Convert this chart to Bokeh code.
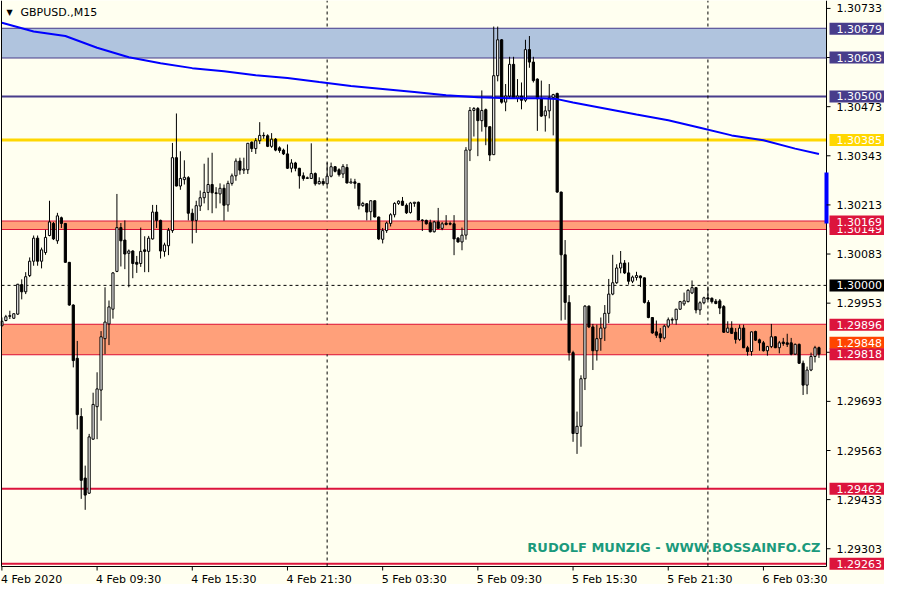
from bokeh.plotting import figure
from bokeh.models import ColumnDataSource, Range1d, BoxAnnotation, Label
from bokeh.core.properties import value
from bokeh.embed import file_html
from bokeh.resources import INLINE

symbol = "GBPUSD.,M15"
watermark = "RUDOLF MUNZIG - WWW.BOSSAINFO.CZ"

# ---- M15 candles (bar 0 = 4 Feb 03:30) ----
open_ = [1.29893, 1.29907, 1.29918, 1.29913, 1.29924, 1.30002, 1.29983, 1.30026, 1.30064, 1.30125,
         1.30064, 1.30087, 1.30132, 1.30164, 1.30118, 1.30179, 1.30164, 1.30061, 1.29948, 1.29807,
         1.29653, 1.29490, 1.29450, 1.29593, 1.29679, 1.29723, 1.29859, 1.29898, 1.29937, 1.30037,
         1.30153, 1.30120, 1.30085, 1.30091, 1.30061, 1.30058, 1.30094, 1.30090, 1.30123, 1.30194,
         1.30172, 1.30090, 1.30105, 1.30145, 1.30338, 1.30263, 1.30280, 1.30285, 1.30191, 1.30172,
         1.30210, 1.30232, 1.30246, 1.30267, 1.30245, 1.30242, 1.30257, 1.30213, 1.30270, 1.30290,
         1.30329, 1.30305, 1.30306, 1.30379, 1.30362, 1.30383, 1.30397, 1.30396, 1.30368, 1.30387,
         1.30364, 1.30358, 1.30348, 1.30310, 1.30324, 1.30310, 1.30290, 1.30283, 1.30283, 1.30296,
         1.30269, 1.30275, 1.30269, 1.30289, 1.30314, 1.30306, 1.30295, 1.30312, 1.30271, 1.30274,
         1.30270, 1.30211, 1.30216, 1.30195, 1.30224, 1.30181, 1.30122, 1.30145, 1.30164, 1.30187,
         1.30217, 1.30223, 1.30212, 1.30193, 1.30217, 1.30220, 1.30173, 1.30172, 1.30166, 1.30142,
         1.30168, 1.30151, 1.30165, 1.30164, 1.30163, 1.30125, 1.30115, 1.30133, 1.30358, 1.30463,
         1.30468, 1.30436, 1.30465, 1.30420, 1.30346, 1.30555, 1.30650, 1.30485, 1.30501, 1.30585,
         1.30496, 1.30501, 1.30490, 1.30624, 1.30591, 1.30546, 1.30494, 1.30449, 1.30462, 1.30497,
         1.30508, 1.30247, 1.30081, 1.29955, 1.29822, 1.29608, 1.29627, 1.29753, 1.29945, 1.29890,
         1.29827, 1.29859, 1.29887, 1.29926, 1.29977, 1.30007, 1.30046, 1.30059, 1.30033, 1.30011,
         1.30021, 1.30025, 1.30020, 1.29955, 1.29915, 1.29877, 1.29872, 1.29861, 1.29892, 1.29908,
         1.29909, 1.29937, 1.29951, 1.29957, 1.29980, 1.29994, 1.29935, 1.29954, 1.29967, 1.29966,
         1.29958, 1.29959, 1.29944, 1.29876, 1.29887, 1.29876, 1.29857, 1.29887, 1.29835, 1.29825,
         1.29878, 1.29856, 1.29848, 1.29827, 1.29838, 1.29864, 1.29835, 1.29850, 1.29848, 1.29848,
         1.29818, 1.29844, 1.29794, 1.29736, 1.29776, 1.29812, 1.29835]

high = [1.29915, 1.29922, 1.29933, 1.29926, 1.30004, 1.30016, 1.30035, 1.30074, 1.30132, 1.30132,
        1.30100, 1.30147, 1.30224, 1.30168, 1.30192, 1.30182, 1.30165, 1.30062, 1.29950, 1.29853,
        1.29675, 1.29523, 1.29607, 1.29716, 1.29770, 1.29879, 1.29995, 1.29960, 1.30035, 1.30242,
        1.30165, 1.30172, 1.30095, 1.30093, 1.30078, 1.30153, 1.30130, 1.30131, 1.30213, 1.30213,
        1.30174, 1.30113, 1.30152, 1.30377, 1.30455, 1.30355, 1.30331, 1.30289, 1.30203, 1.30224,
        1.30251, 1.30322, 1.30338, 1.30351, 1.30260, 1.30270, 1.30267, 1.30277, 1.30296, 1.30336,
        1.30338, 1.30338, 1.30377, 1.30381, 1.30390, 1.30432, 1.30405, 1.30400, 1.30403, 1.30390,
        1.30368, 1.30362, 1.30373, 1.30334, 1.30327, 1.30311, 1.30299, 1.30288, 1.30376, 1.30299,
        1.30286, 1.30283, 1.30325, 1.30325, 1.30316, 1.30310, 1.30321, 1.30321, 1.30283, 1.30282,
        1.30271, 1.30221, 1.30218, 1.30225, 1.30225, 1.30182, 1.30152, 1.30169, 1.30191, 1.30220,
        1.30225, 1.30234, 1.30217, 1.30221, 1.30221, 1.30222, 1.30175, 1.30174, 1.30174, 1.30171,
        1.30205, 1.30168, 1.30186, 1.30169, 1.30186, 1.30128, 1.30153, 1.30366, 1.30472, 1.30472,
        1.30472, 1.30516, 1.30468, 1.30420, 1.30685, 1.30685, 1.30652, 1.30533, 1.30605, 1.30605,
        1.30546, 1.30537, 1.30650, 1.30660, 1.30605, 1.30548, 1.30542, 1.30475, 1.30533, 1.30507,
        1.30510, 1.30248, 1.30120, 1.29974, 1.29827, 1.29666, 1.29762, 1.29948, 1.29947, 1.29898,
        1.29896, 1.29915, 1.29948, 1.30017, 1.30081, 1.30056, 1.30091, 1.30067, 1.30061, 1.30026,
        1.30036, 1.30026, 1.30021, 1.29961, 1.29916, 1.29907, 1.29887, 1.29896, 1.29915, 1.29915,
        1.29938, 1.29959, 1.29981, 1.29990, 1.30013, 1.29994, 1.29958, 1.29970, 1.29997, 1.29968,
        1.29964, 1.29964, 1.29948, 1.29905, 1.29905, 1.29887, 1.29896, 1.29896, 1.29840, 1.29878,
        1.29880, 1.29859, 1.29853, 1.29840, 1.29898, 1.29865, 1.29853, 1.29861, 1.29872, 1.29861,
        1.29846, 1.29846, 1.29801, 1.29785, 1.29822, 1.29840, 1.29838]

low = [1.29892, 1.29905, 1.29911, 1.29912, 1.29922, 1.29963, 1.29977, 1.30022, 1.30052, 1.30052,
       1.30045, 1.30081, 1.30130, 1.30120, 1.30110, 1.30152, 1.30060, 1.29946, 1.29783, 1.29619,
       1.29435, 1.29406, 1.29448, 1.29591, 1.29593, 1.29642, 1.29818, 1.29842, 1.29912, 1.30035,
       1.30050, 1.30043, 1.29995, 1.30019, 1.30033, 1.30049, 1.30035, 1.30035, 1.30121, 1.30152,
       1.30071, 1.30076, 1.30080, 1.30139, 1.30262, 1.30253, 1.30267, 1.30172, 1.30111, 1.30139,
       1.30197, 1.30217, 1.30199, 1.30191, 1.30204, 1.30217, 1.30171, 1.30195, 1.30264, 1.30277,
       1.30293, 1.30295, 1.30295, 1.30353, 1.30348, 1.30374, 1.30388, 1.30366, 1.30364, 1.30355,
       1.30351, 1.30345, 1.30308, 1.30299, 1.30302, 1.30256, 1.30277, 1.30282, 1.30282, 1.30264,
       1.30267, 1.30264, 1.30264, 1.30286, 1.30299, 1.30288, 1.30284, 1.30270, 1.30270, 1.30256,
       1.30201, 1.30208, 1.30172, 1.30172, 1.30180, 1.30120, 1.30111, 1.30139, 1.30156, 1.30180,
       1.30213, 1.30211, 1.30189, 1.30190, 1.30208, 1.30172, 1.30144, 1.30161, 1.30140, 1.30140,
       1.30149, 1.30146, 1.30159, 1.30159, 1.30080, 1.30113, 1.30093, 1.30121, 1.30329, 1.30394,
       1.30342, 1.30407, 1.30371, 1.30329, 1.30345, 1.30540, 1.30481, 1.30461, 1.30494, 1.30494,
       1.30485, 1.30466, 1.30485, 1.30576, 1.30537, 1.30409, 1.30446, 1.30407, 1.30442, 1.30397,
       1.30245, 1.29907, 1.29909, 1.29801, 1.29586, 1.29554, 1.29573, 1.29723, 1.29887, 1.29776,
       1.29801, 1.29827, 1.29853, 1.29900, 1.29974, 1.30004, 1.30032, 1.30030, 1.30002, 1.30006,
       1.30013, 1.29996, 1.29952, 1.29913, 1.29872, 1.29861, 1.29850, 1.29857, 1.29887, 1.29898,
       1.29896, 1.29935, 1.29946, 1.29955, 1.29977, 1.29926, 1.29922, 1.29950, 1.29961, 1.29952,
       1.29950, 1.29924, 1.29874, 1.29874, 1.29872, 1.29846, 1.29853, 1.29834, 1.29814, 1.29814,
       1.29853, 1.29827, 1.29825, 1.29814, 1.29834, 1.29834, 1.29820, 1.29840, 1.29837, 1.29815,
       1.29816, 1.29792, 1.29710, 1.29712, 1.29773, 1.29796, 1.29808]

close = [1.29905, 1.29917, 1.29920, 1.29925, 1.30003, 1.29983, 1.30023, 1.30064, 1.30125, 1.30064,
         1.30094, 1.30127, 1.30168, 1.30123, 1.30184, 1.30164, 1.30061, 1.29948, 1.29801, 1.29658,
         1.29484, 1.29445, 1.29599, 1.29685, 1.29726, 1.29864, 1.29903, 1.29943, 1.30033, 1.30153,
         1.30118, 1.30083, 1.30091, 1.30058, 1.30056, 1.30090, 1.30090, 1.30125, 1.30194, 1.30172,
         1.30091, 1.30107, 1.30146, 1.30338, 1.30263, 1.30283, 1.30286, 1.30191, 1.30172, 1.30211,
         1.30232, 1.30246, 1.30267, 1.30245, 1.30243, 1.30257, 1.30212, 1.30270, 1.30290, 1.30329,
         1.30305, 1.30308, 1.30376, 1.30362, 1.30383, 1.30397, 1.30396, 1.30368, 1.30387, 1.30358,
         1.30357, 1.30348, 1.30310, 1.30324, 1.30310, 1.30290, 1.30283, 1.30285, 1.30296, 1.30269,
         1.30275, 1.30269, 1.30289, 1.30314, 1.30302, 1.30293, 1.30315, 1.30271, 1.30274, 1.30270,
         1.30211, 1.30217, 1.30194, 1.30224, 1.30181, 1.30123, 1.30145, 1.30165, 1.30187, 1.30217,
         1.30223, 1.30212, 1.30192, 1.30218, 1.30220, 1.30173, 1.30172, 1.30163, 1.30142, 1.30168,
         1.30151, 1.30163, 1.30161, 1.30162, 1.30123, 1.30115, 1.30133, 1.30358, 1.30463, 1.30468,
         1.30436, 1.30463, 1.30420, 1.30345, 1.30555, 1.30650, 1.30485, 1.30501, 1.30585, 1.30496,
         1.30501, 1.30490, 1.30624, 1.30591, 1.30542, 1.30494, 1.30448, 1.30462, 1.30497, 1.30505,
         1.30247, 1.30081, 1.29955, 1.29822, 1.29608, 1.29627, 1.29753, 1.29945, 1.29890, 1.29827,
         1.29859, 1.29887, 1.29926, 1.29977, 1.30007, 1.30046, 1.30059, 1.30033, 1.30011, 1.30022,
         1.30026, 1.30020, 1.29955, 1.29915, 1.29874, 1.29868, 1.29861, 1.29892, 1.29909, 1.29910,
         1.29937, 1.29957, 1.29959, 1.29987, 1.29994, 1.29935, 1.29954, 1.29967, 1.29964, 1.29957,
         1.29952, 1.29940, 1.29876, 1.29887, 1.29873, 1.29857, 1.29887, 1.29835, 1.29825, 1.29877,
         1.29855, 1.29848, 1.29827, 1.29838, 1.29864, 1.29835, 1.29848, 1.29846, 1.29844, 1.29818,
         1.29844, 1.29794, 1.29736, 1.29776, 1.29812, 1.29835, 1.29818]

# ---- moving average (blue) ----
ma_index = [0, 8, 16, 24, 32, 40, 48, 56, 64, 72, 80, 88, 96, 104, 112, 120, 128, 136,
            140, 144, 152, 160, 168, 176, 184, 192, 200, 206]
ma_value = [1.30695, 1.30672, 1.30660, 1.30629, 1.30604, 1.30588, 1.30575, 1.30567, 1.30556,
            1.30549, 1.30538, 1.30528, 1.30520, 1.30512, 1.30503, 1.30498, 1.30495, 1.30495,
            1.30493, 1.30484, 1.30468, 1.30452, 1.30437, 1.30417, 1.30397, 1.30384, 1.30362,
            1.30348]

# ---- axes ----
time_tick_index = [0, 24, 48, 72, 96, 120, 144, 168, 192]
time_tick_labels = ["4 Feb 2020", "4 Feb 09:30", "4 Feb 15:30", "4 Feb 21:30", "5 Feb 03:30",
                    "5 Feb 09:30", "5 Feb 15:30", "5 Feb 21:30", "6 Feb 03:30"]
day_separators = [82, 178]
price_ticks = [1.30733, 1.30603, 1.30473, 1.30343, 1.30213, 1.30083, 1.29953, 1.29823,
               1.29693, 1.29563, 1.29433, 1.29303]

# ---- drawn levels ----
blue_zone = (1.30603, 1.30679)
blue_level = 1.30500
gold_level = 1.30385
upper_red_zone = (1.30149, 1.30169)
round_level = 1.30000
lower_red_zone = (1.29818, 1.29896)
lower_zone_mid = 1.29848
red_levels = [1.29462, 1.29263]
range_bar = (1.30164, 1.30299)

label_values = [1.30679, 1.30603, 1.30500, 1.30385, 1.30149, 1.30169, 1.30000,
                1.29896, 1.29848, 1.29818, 1.29462, 1.29263]
label_colors = ["#483D8B", "#483D8B", "#483D8B", "#FFD700", "#DC143C", "#DC143C", "#000000",
                "#DC143C", "#FF4500", "#DC143C", "#DC143C", "#DC143C"]

BG = "#FFFFF0"
FONT = "DejaVu Sans"
W, H = 884, 584
n = len(close)

# chart window (price pane) inside the canvas; the rest is the scale area
chart_left, chart_right = -0.1, n + 0.9
chart_top, chart_bottom = 1.30754, 1.29256
pane_w_px, pane_h_px = 825, 566
pxx = (chart_right - chart_left) / pane_w_px      # data units per pixel (x)
pxy = (chart_top - chart_bottom) / pane_h_px      # data units per pixel (y)
x_start = chart_left - 1 * pxx
x_end = x_start + W * pxx
y_end = chart_top
y_start = chart_top - H * pxy

p = figure(width=W, height=H, x_range=Range1d(x_start, x_end), y_range=Range1d(y_start, y_end),
           output_backend="svg", toolbar_location=None,
           x_axis_location=None, y_axis_location=None,
           background_fill_color=BG, border_fill_color=BG,
           min_border_left=0, min_border_right=0, min_border_top=0, min_border_bottom=0)
p.grid.visible = False
p.outline_line_color = None

# zones
for (b, t), fc in [(blue_zone, "#B0C4DE"), (upper_red_zone, "#FFA07A"), (lower_red_zone, "#FFA07A")]:
    p.add_layout(BoxAnnotation(left=chart_left, right=chart_right, bottom=b, top=t,
                               fill_color=fc, fill_alpha=1.0, line_color=None, level="underlay"))

# horizontal levels
lvl_y = [blue_zone[0], blue_zone[1], blue_level, gold_level, upper_red_zone[0], upper_red_zone[1],
         lower_red_zone[0], lower_red_zone[1], lower_zone_mid, red_levels[0], red_levels[1]]
lvl_c = ["#483D8B", "#483D8B", "#483D8B", "#FFD700", "#DC143C", "#DC143C",
         "#DC143C", "#DC143C", "#FF4500", "#DC143C", "#DC143C"]
lvl_w = [2, 2, 2, 3, 2, 2, 2, 2, 1, 2, 2]
r = p.segment(x0=[chart_left] * len(lvl_y), x1=[chart_right] * len(lvl_y), y0=lvl_y, y1=lvl_y,
              line_color=lvl_c, line_width=lvl_w)
r.level = "underlay"
r = p.segment(x0=[chart_left], x1=[chart_right], y0=[round_level], y1=[round_level],
              line_color="black", line_width=1, line_dash="3 3")
r.level = "underlay"
r = p.segment(x0=day_separators, x1=day_separators, y0=[chart_bottom] * len(day_separators),
              y1=[chart_top] * len(day_separators), line_color="black", line_width=1, line_dash="3 3")
r.level = "underlay"

# candles
idx = list(range(n))
top = [max(o, c) for o, c in zip(open_, close)]
bot = [min(o, c) for o, c in zip(open_, close)]
fill = ["white" if c >= o else "black" for o, c in zip(open_, close)]
src = ColumnDataSource(dict(x=idx, high=high, low=low, top=top, bottom=bot, fill=fill))
p.segment(x0="x", y0="low", x1="x", y1="high", line_color="black", line_width=1, source=src)
p.vbar(x="x", width=0.55, top="top", bottom="bottom", fill_color="fill",
       line_color="black", line_width=1, source=src)

# moving average
p.line(ma_index, ma_value, line_color="#0000FF", line_width=2)

# pane frame: left, right (price scale line), bottom (time scale line)
p.segment(x0=[chart_left, chart_right, chart_left], x1=[chart_left, chart_right, chart_right],
          y0=[chart_bottom, chart_bottom, chart_bottom], y1=[chart_top, chart_top, chart_bottom],
          line_color="black", line_width=1)

# range indicator at right edge
p.segment(x0=[chart_right], x1=[chart_right], y0=[range_bar[0]], y1=[range_bar[1]],
          line_color="#0000FF", line_width=4)

# price scale ticks + labels
k = len(price_ticks)
p.segment(x0=[chart_right] * k, x1=[chart_right + 4 * pxx] * k, y0=price_ticks, y1=price_ticks,
          line_color="black", line_width=1)
p.text(x=[chart_right + 10 * pxx] * k, y=price_ticks, text=["%.5f" % v for v in price_ticks],
       text_font=value(FONT), text_font_size=value("11px"), text_color="black",
       text_align="left", text_baseline="middle")

# time scale ticks + labels
m = len(time_tick_index)
p.segment(x0=time_tick_index, x1=time_tick_index, y0=[chart_bottom] * m,
          y1=[chart_bottom - 4 * pxy] * m, line_color="black", line_width=1)
p.text(x=[t - 1 * pxx for t in time_tick_index], y=[chart_bottom - 6 * pxy] * m,
       text=time_tick_labels, text_font=value(FONT), text_font_size=value("11px"),
       text_color="black", text_align="left", text_baseline="top")

# texts
p.add_layout(Label(x=chart_left, y=chart_top, x_offset=5, y_offset=-12, text="\u25BC", text_font=FONT,
                   text_font_size="8px", text_color="black", text_baseline="middle"))
p.add_layout(Label(x=chart_left, y=chart_top, x_offset=19, y_offset=-12, text=symbol, text_font=FONT,
                   text_font_size="11px", text_color="black", text_baseline="middle"))
p.add_layout(Label(x=chart_right, y=1.29305, x_offset=-6, text=watermark, text_font=FONT,
                   text_font_size="13px", text_font_style="bold", text_color="#1B9A7C",
                   text_align="right", text_baseline="middle"))

# coloured price labels of the drawn levels
for v, c in zip(label_values, label_colors):
    p.add_layout(Label(x=chart_right, y=v, x_offset=3, text="%.5f" % v, text_font=FONT,
                       text_font_size="11px", text_color="white", text_align="left",
                       text_baseline="middle", background_fill_color=c, background_fill_alpha=1.0,
                       padding=dict(left=7, right=3, top=2, bottom=2)))

open("out.html", "w").write(file_html(p, INLINE))
